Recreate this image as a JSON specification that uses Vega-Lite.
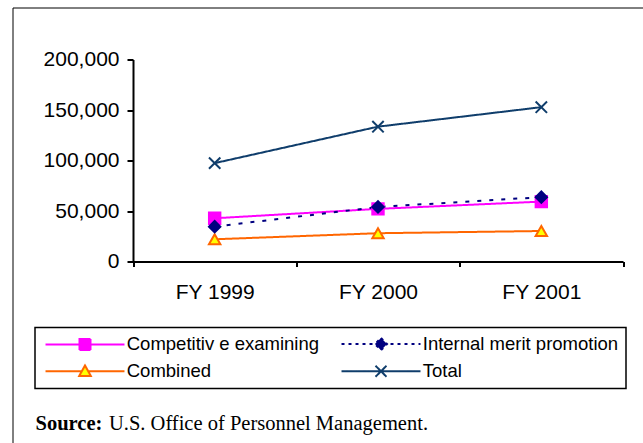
{
  "$schema": "https://vega.github.io/schema/vega-lite/v6.json",
  "width": 640,
  "height": 445,
  "autosize": {"type": "none"},
  "padding": {"left": 12.5, "top": 7.5, "right": -9.5, "bottom": -9.5},
  "background": "white",
  "config": {
    "view": {"stroke": "black", "strokeWidth": 1},
    "axis": {"labelFont": "Liberation Sans", "labelColor": "black", "domainColor": "black", "tickColor": "black", "grid": false},
    "legend": {"strokeWidth": 1.5}
  },
  "data": {
    "values": [
      {"year": "FY 1999", "series": "Total", "value": 97400},
      {"year": "FY 2000", "series": "Total", "value": 133500},
      {"year": "FY 2001", "series": "Total", "value": 152800},
      {"year": "FY 1999", "series": "Combined", "value": 22000},
      {"year": "FY 2000", "series": "Combined", "value": 28000},
      {"year": "FY 2001", "series": "Combined", "value": 30200},
      {"year": "FY 1999", "series": "Competitiv e examining", "value": 42800},
      {"year": "FY 2000", "series": "Competitiv e examining", "value": 52100},
      {"year": "FY 2001", "series": "Competitiv e examining", "value": 59300},
      {"year": "FY 1999", "series": "Internal merit promotion", "value": 34500},
      {"year": "FY 2000", "series": "Internal merit promotion", "value": 54000},
      {"year": "FY 2001", "series": "Internal merit promotion", "value": 63700}
    ]
  },
  "encoding": {
    "x": {
      "field": "year", "type": "nominal",
      "scale": {"type": "band", "range": [120.5, 610.5], "paddingInner": 0, "paddingOuter": 0},
      "axis": {
        "orient": "bottom", "offset": -191, "tickBand": "extent", "labelAngle": 0,
        "labelFontSize": 21, "labelPadding": 15, "tickSize": 5, "tickWidth": 2, "domainWidth": 2,
        "title": "U.S. Office of Personnel Management.",
        "titleFont": "Liberation Serif", "titleFontSize": 20.5, "titleFontWeight": "normal", "titleColor": "black",
        "titleAlign": "left", "titleBaseline": "alphabetic", "titleAnchor": "start",
        "titleX": 96, "titleY": 167.5
      }
    },
    "y": {
      "field": "value", "type": "quantitative",
      "scale": {"domain": [0, 200000], "range": [254, 52], "nice": false},
      "axis": {
        "orient": "left", "offset": -120.5, "values": [0, 50000, 100000, 150000, 200000], "format": ",d",
        "labelFontSize": 21, "labelPadding": 8, "tickSize": 6, "tickWidth": 2, "domainWidth": 2,
        "title": "Source:", "titleFont": "Liberation Serif", "titleFontSize": 20.5, "titleFontWeight": "bold", "titleColor": "black",
        "titleAngle": 0, "titleAlign": "left", "titleBaseline": "alphabetic", "titleX": -98, "titleY": 421.5
      }
    }
  },
  "layer": [
    {
      "mark": {"type": "line", "strokeWidth": 2},
      "encoding": {
        "color": {"field": "series", "type": "nominal", "legend": null,
          "scale": {"domain": ["Competitiv e examining", "Internal merit promotion", "Combined", "Total"], "range": ["#FF00FF", "#000080", "#FF6600", "#0F3D6B"]}},
        "strokeDash": {"field": "series", "type": "nominal", "legend": null,
          "scale": {"domain": ["Competitiv e examining", "Internal merit promotion", "Combined", "Total"], "range": [[1, 0], [4, 8], [1, 0], [1, 0]]}}
      }
    },
    {
      "mark": {"type": "point", "filled": true, "size": 130, "strokeWidth": 2, "opacity": 1},
      "encoding": {
        "shape": {"field": "series", "type": "nominal", "legend": null,
          "scale": {"domain": ["Competitiv e examining", "Internal merit promotion", "Combined", "Total"], "range": ["square", "diamond", "triangle-up", "M-1,-1L1,1M-1,1L1,-1"]}},
        "fill": {"field": "series", "type": "nominal", "legend": null,
          "scale": {"domain": ["Competitiv e examining", "Internal merit promotion", "Combined", "Total"], "range": ["#FF00FF", "#000080", "#FFFF00", "transparent"]}},
        "stroke": {"field": "series", "type": "nominal", "legend": null,
          "scale": {"domain": ["Competitiv e examining", "Internal merit promotion", "Combined", "Total"], "range": ["#FF00FF", "#000080", "#FF6600", "#0F3D6B"]}}
      }
    },
    {
      "mark": {"type": "point", "filled": true, "strokeWidth": 2, "opacity": 0},
      "encoding": {
        "shape": {"field": "series", "type": "nominal",
          "scale": {"domain": ["Competitiv e examining", "Internal merit promotion", "Combined", "Total"],
            "range": ["M-7.18,0H7.18M-1,-1H1V1H-1Z", "M-7.18,0H7.18M0,-1.1L1.1,0L0,1.1L-1.1,0Z", "M-7.18,0H-0.58M0.58,0H7.18M0,-1.05L1.05,0.85H-1.05Z", "M-7.18,0H7.18M-1,-1L1,1M-1,1L1,-1"]},
          "legend": {
            "title": null, "orient": "none", "legendX": 22.5, "legendY": 320, "columns": 2, "direction": "horizontal",
            "strokeColor": "black", "padding": 7, "fillColor": "white",
            "labelFont": "Liberation Sans", "labelFontSize": 18.5, "labelColor": "black", "labelLimit": 400,
            "symbolSize": 121, "symbolStrokeWidth": 2, "symbolOffset": 33.75, "labelOffset": 32.5,
            "columnPadding": 17, "rowPadding": 6.5, "symbolOpacity": 1
          }
        },
        "fill": {"field": "series", "type": "nominal",
          "scale": {"domain": ["Competitiv e examining", "Internal merit promotion", "Combined", "Total"], "range": ["#FF00FF", "#000080", "#FFFF00", "transparent"]}},
        "stroke": {"field": "series", "type": "nominal",
          "scale": {"domain": ["Competitiv e examining", "Internal merit promotion", "Combined", "Total"], "range": ["#FF00FF", "#000080", "#FF6600", "#0F3D6B"]}},
        "strokeDash": {"field": "series", "type": "nominal",
          "scale": {"domain": ["Competitiv e examining", "Internal merit promotion", "Combined", "Total"], "range": [[1, 0], [3, 4], [1, 0], [1, 0]]}}
      }
    }
  ],
  "resolve": {"scale": {"shape": "independent", "fill": "independent", "stroke": "independent", "strokeDash": "independent", "color": "independent"}}
}
